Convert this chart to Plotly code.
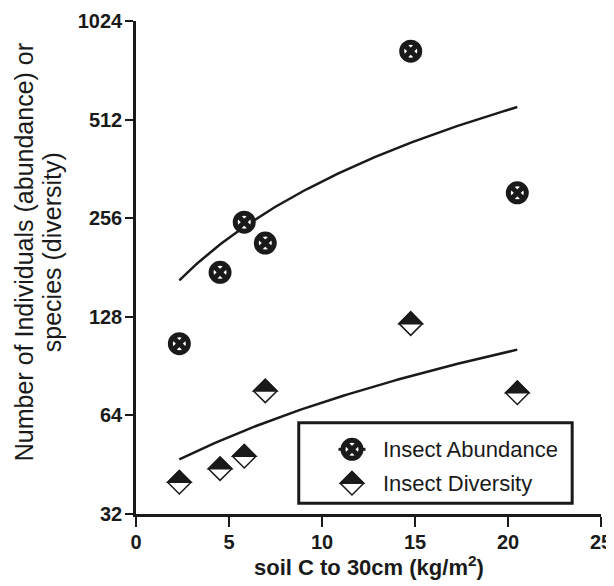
import numpy as np
import plotly.graph_objects as go

# ---- data ----
soil_c = [2.33, 4.52, 5.82, 6.95, 14.77, 20.5]
abundance = [106, 175, 249, 215, 828, 306]
diversity = [40, 44, 48, 76, 122, 75]
y_ticks = [32, 64, 128, 256, 512, 1024]
x_ticks = [0, 5, 10, 15, 20, 25]
series_names = ["Insect Abundance", "Insect Diversity"]

FONT = "Arial, 'Liberation Sans', Helvetica, sans-serif"
INK = "#1a1a1a"

# linear regressions drawn over the data range
xs = np.linspace(min(soil_c), max(soil_c), 120)
pa = np.polyfit(soil_c, abundance, 1)
pd_ = np.polyfit(soil_c, diversity, 1)

fig = go.Figure()
fig.add_trace(go.Scatter(x=xs, y=np.polyval(pa, xs), mode="lines",
                         line=dict(color=INK, width=2.5), showlegend=False, hoverinfo="skip"))
fig.add_trace(go.Scatter(x=xs, y=np.polyval(pd_, xs), mode="lines",
                         line=dict(color=INK, width=2.5), showlegend=False, hoverinfo="skip"))

CSIZE, CLINE = 18, 5
fig.add_trace(go.Scatter(x=soil_c, y=abundance, mode="markers", name=series_names[0],
                         marker=dict(symbol="circle-x", size=CSIZE, color="white",
                                     line=dict(color=INK, width=CLINE)), showlegend=False))
DSIZE = 18
fig.add_trace(go.Scatter(x=soil_c, y=diversity, mode="markers", name=series_names[1],
                         marker=dict(symbol="diamond", size=DSIZE, color="white",
                                     line=dict(color=INK, width=1.5)), showlegend=False))

rd = 1.3 * DSIZE / 2
half_path = f"M {-rd},0 L 0,{rd} L {rd},0 Z"
shapes = []
for xv, yv in zip(soil_c, diversity):
    shapes.append(dict(type="path", xref="x", yref="y", xsizemode="pixel", ysizemode="pixel",
                       xanchor=xv, yanchor=yv, path=half_path, fillcolor=INK,
                       line=dict(color=INK, width=1.5), layer="above"))

# ---- custom legend (on an overlay axis spanning the plot area, 0..1) ----
leg_x0, leg_x1, leg_y0, leg_y1 = 0.350, 0.938, 0.0217, 0.185
sym_x = 0.4645
row_y = [0.1312, 0.0623]
text_x = 0.526

shapes.append(dict(type="rect", xref="paper", yref="paper", x0=leg_x0, x1=leg_x1,
                   y0=leg_y0, y1=leg_y1, line=dict(color=INK, width=3),
                   fillcolor="white", layer="below"))

fig.add_trace(go.Scatter(x=[sym_x - 0.029, sym_x + 0.029], y=[row_y[0], row_y[0]], mode="lines",
                         line=dict(color=INK, width=3), xaxis="x2", yaxis="y2",
                         showlegend=False, hoverinfo="skip"))
fig.add_trace(go.Scatter(x=[sym_x], y=[row_y[0]], mode="markers", xaxis="x2", yaxis="y2",
                         marker=dict(symbol="circle-x", size=CSIZE, color="white",
                                     line=dict(color=INK, width=CLINE)),
                         showlegend=False, hoverinfo="skip"))
fig.add_trace(go.Scatter(x=[sym_x], y=[row_y[1]], mode="markers", xaxis="x2", yaxis="y2",
                         marker=dict(symbol="diamond", size=DSIZE, color="white",
                                     line=dict(color=INK, width=1.5)),
                         showlegend=False, hoverinfo="skip"))
shapes.append(dict(type="path", xref="x2", yref="y2", xsizemode="pixel", ysizemode="pixel",
                   xanchor=sym_x, yanchor=row_y[1], path=half_path, fillcolor=INK,
                   line=dict(color=INK, width=1.5), layer="above"))

annotations = []
for name, yv in zip(series_names, row_y):
    annotations.append(dict(text=name, xref="paper", yref="paper", x=text_x, y=yv,
                            xanchor="left", yanchor="middle", showarrow=False,
                            font=dict(family=FONT, size=22, color=INK)))

# y title, two lines
annotations.append(dict(text="Number of Individuals (abundance) or", xref="paper", yref="paper",
                        x=0, y=0.531, xanchor="center", yanchor="middle", xshift=-112,
                        textangle=-90, showarrow=False,
                        font=dict(family=FONT, size=25, color=INK)))
annotations.append(dict(text="species (diversity)", xref="paper", yref="paper",
                        x=0, y=0.531, xanchor="center", yanchor="middle", xshift=-84,
                        textangle=-90, showarrow=False,
                        font=dict(family=FONT, size=25, color=INK)))
# x title
annotations.append(dict(text="<b>soil C to 30cm (kg/m<sup>2</sup>)</b>", xref="paper", yref="paper",
                        x=0.5, y=0, xanchor="center", yanchor="bottom", yshift=-68,
                        showarrow=False, font=dict(family=FONT, size=22, color=INK)))

# the page adds an 8px body margin, so the figure is 8px smaller each way
fig.update_layout(
    width=606, height=578,
    margin=dict(l=128, r=13, t=13, b=72, pad=0, autoexpand=False),
    paper_bgcolor="white", plot_bgcolor="white",
    showlegend=False,
    shapes=shapes, annotations=annotations,
    xaxis=dict(range=[0, 25], tickvals=x_ticks, ticktext=[f"<b>{v}</b>" for v in x_ticks],
               showgrid=False, zeroline=False, showline=True, linecolor=INK, linewidth=2.5,
               ticks="outside", ticklen=10, tickwidth=2, tickcolor=INK, automargin=False,
               ticklabelstandoff=-2,
               tickfont=dict(family=FONT, size=20, color=INK), fixedrange=True),
    yaxis=dict(type="log", range=[np.log10(32), np.log10(1024)], tickvals=y_ticks,
               ticktext=[f"<b>{v}</b>" for v in y_ticks],
               showgrid=False, zeroline=False, showline=True, linecolor=INK, linewidth=2.5,
               ticks="outside", ticklen=8, tickwidth=2, tickcolor=INK, automargin=False,
               ticklabelstandoff=-1,
               tickfont=dict(family=FONT, size=20, color=INK), fixedrange=True),
    xaxis2=dict(overlaying="x", range=[0, 1], visible=False, fixedrange=True, automargin=False),
    yaxis2=dict(overlaying="y", range=[0, 1], visible=False, fixedrange=True, automargin=False),
)

fig.write_html("out.html")
